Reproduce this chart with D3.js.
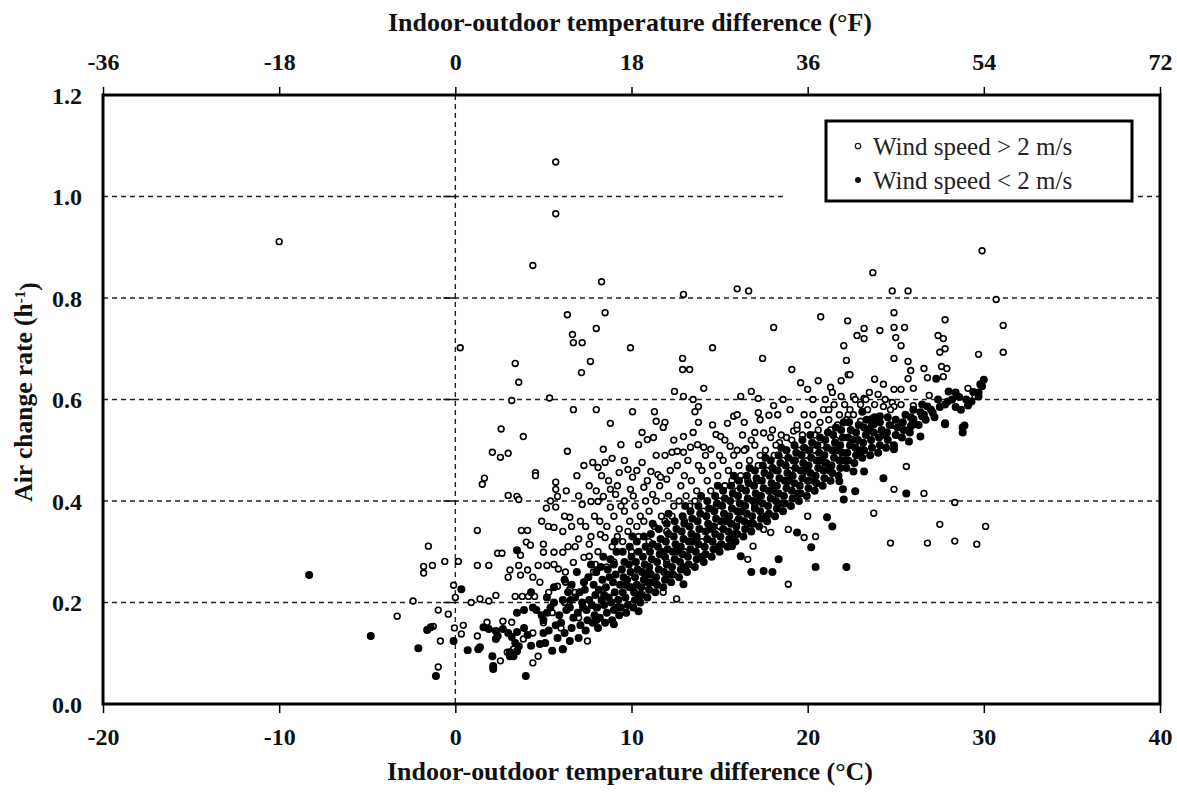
<!DOCTYPE html>
<html>
<head>
<meta charset="utf-8">
<script src="https://cdn.jsdelivr.net/npm/d3@7"></script>
<style>
  html, body { margin: 0; padding: 0; background: #fff; }
  svg { display: block; }
  text { font-family: "Liberation Serif", "Times New Roman", serif; fill: #111; }
</style>
</head>
<body>
<svg id="chart" width="1177" height="792"></svg>
<script>
// ---------------- data ----------------
const xTicksC = [-20, -10, 0, 10, 20, 30, 40];
const xTicksF = [-36, -18, 0, 18, 36, 54, 72];
const yTicks = [0.0, 0.2, 0.4, 0.6, 0.8, 1.0, 1.2];
const gridValues = [0.2, 0.4, 0.6, 0.8, 1.0];
const seriesNames = ["Wind speed > 2 m/s", "Wind speed < 2 m/s"];

// Wind speed > 2 m/s  [temperature difference (°C), air change rate (1/h)]
const windyPoints = [
  [-10.0,0.911],[5.7,1.068],[5.7,0.966],[4.4,0.864],[0.28,0.702],[3.4,0.671],[3.6,0.634],[3.2,0.598],
  [5.35,0.603],[2.6,0.542],[8.3,0.832],[12.95,0.807],[16.0,0.818],[16.65,0.814],[6.36,0.767],[8.5,0.771],
  [6.65,0.728],[6.7,0.712],[7.2,0.712],[8.0,0.74],[18.07,0.742],[20.74,0.763],[22.27,0.755],[9.94,0.702],
  [14.6,0.702],[7.67,0.675],[7.16,0.653],[12.9,0.681],[12.9,0.659],[13.3,0.659],[17.44,0.681],[19.1,0.659],
  [19.6,0.633],[20.6,0.637],[22.05,0.706],[22.2,0.677],[21.9,0.637],[22.3,0.649],[12.44,0.616],[12.95,0.606],
  [14.1,0.622],[13.5,0.600],[16.2,0.606],[16.8,0.616],[17.2,0.602],[21.3,0.624],[21.4,0.614],[21.9,0.606],
  [6.7,0.580],[8.0,0.580],[10.06,0.576],[11.3,0.576],[13.8,0.586],[13.6,0.576],[17.2,0.574],[17.8,0.569],
  [18.07,0.588],[8.8,0.553],[11.4,0.557],[11.9,0.555],[13.8,0.555],[15.45,0.553],[15.8,0.567],[16.4,0.555],
  [20.7,0.555],[21.7,0.549],[22.3,0.570],
  [29.9,0.893],[23.7,0.850],[24.8,0.814],[25.7,0.814],[30.7,0.797],[24.9,0.771],[27.8,0.757],[23.2,0.740],
  [22.8,0.726],[23.2,0.720],[24.1,0.736],[24.9,0.742],[25.5,0.742],[25.0,0.722],[25.3,0.706],[31.1,0.746],
  [27.4,0.726],[27.7,0.720],[27.8,0.700],[27.5,0.693],[24.9,0.681],[25.7,0.675],[29.7,0.689],[31.1,0.693],
  [25.85,0.657],[25.7,0.641],[26.6,0.661],[26.8,0.643],[27.6,0.665],[27.9,0.661],[27.7,0.645],[22.4,0.649],
  [29.1,0.622],[24.9,0.620],[25.3,0.620],[26.0,0.622],[26.9,0.608],[23.5,0.614],[24.0,0.610],[24.3,0.586],
  [24.8,0.594],[24.9,0.586],[26.0,0.588],[22.6,0.606],[23.2,0.602],[29.5,0.606],
  [25.6,0.468],[24.9,0.423],[26.6,0.415],[28.35,0.397],[23.75,0.376],[27.5,0.354],[30.1,0.350],[24.7,0.317],
  [26.8,0.317],[28.35,0.321],[29.6,0.315],[24.9,0.549],[23.0,0.557],
  [3.86,0.527],[2.1,0.496],[2.56,0.486],[3.0,0.494],[4.55,0.456],[4.55,0.450],[1.65,0.445],[1.53,0.433],
  [3.0,0.411],[3.5,0.409],[3.6,0.403],[5.17,0.386],[5.28,0.350],[1.25,0.342],[3.75,0.342],[4.1,0.342],
  [-1.53,0.311],[4.03,0.319],[4.26,0.313],[5.0,0.315],[5.0,0.299],[2.4,0.297],[2.65,0.297],[3.7,0.293],
  [-0.6,0.281],[0.17,0.281],[-1.3,0.273],[-1.8,0.271],[-1.8,0.258],[1.25,0.273],[1.9,0.273],[3.6,0.273],
  [4.1,0.264],[4.7,0.273],[5.2,0.273],[3.1,0.264],[3.0,0.250],[3.7,0.254],[4.4,0.250],[-0.1,0.234],
  [0.0,0.21],[-2.4,0.203],[0.9,0.200],[1.4,0.207],[1.9,0.203],[2.3,0.214],[3.4,0.212],[3.8,0.212],
  [4.15,0.212],[4.5,0.212],[-0.97,0.185],[-0.4,0.177],[-3.3,0.173],[-1.25,0.153],[-0.05,0.150],[0.45,0.155],
  [0.34,0.138],[-0.85,0.124],[1.25,0.134],[1.8,0.161],[2.7,0.163],[3.2,0.161],[2.56,0.085],[2.95,0.102],
  [3.3,0.108],[4.4,0.081],[4.7,0.094],[-0.97,0.073],[3.86,0.128],
  [6.36,0.498],[8.4,0.502],[7.3,0.470],[7.8,0.476],[8.1,0.466],[8.5,0.476],[8.9,0.484],[5.7,0.437],
  [5.7,0.423],[5.8,0.409],[9.4,0.511],[10.4,0.511],[10.9,0.521],[11.25,0.525],[10.6,0.535],[11.8,0.545],
  [12.95,0.527],[13.5,0.535],[10.6,0.476],[11.1,0.458],[11.5,0.452],[11.65,0.447],[12.0,0.443],[9.3,0.456],
  [9.8,0.462],[10.06,0.447],[12.3,0.496],[12.6,0.498],[12.95,0.496],[13.35,0.506],[13.75,0.511],[14.1,0.506],
  [14.5,0.502],[14.8,0.531],[15.06,0.527],[15.6,0.508],[16.0,0.500],[16.5,0.503],[17.0,0.535],[17.5,0.534],
  [17.9,0.525],[18.4,0.515],[18.8,0.525],[19.2,0.538],[19.4,0.542],[5.7,0.388],[5.6,0.348],[6.1,0.340],
  [6.6,0.350],[6.5,0.368],[5.6,0.299],[6.1,0.299],[5.6,0.275],[7.2,0.393],[7.7,0.399],[8.1,0.399],
  [8.4,0.409],[8.8,0.388],[9.1,0.413],[8.8,0.423],[9.94,0.423],[10.7,0.427],[11.2,0.413],[7.0,0.325],
  [7.6,0.315],[8.24,0.334],[8.5,0.328],[5.85,0.266],[6.25,0.260],[6.7,0.279],[7.3,0.289],[7.6,0.291],
  [7.95,0.275],[7.84,0.260],[5.8,0.232],[6.25,0.240],[6.5,0.226],[7.5,0.124],[10.06,0.197],[11.8,0.220],
  [12.56,0.207],[10.9,0.232],[11.25,0.240],[16.6,0.285],[16.9,0.311],[17.5,0.344],[17.9,0.338],[18.9,0.236],
  [18.9,0.344],[20.0,0.370],[19.8,0.328],[20.45,0.330],
  [8.2,0.36],[8.6,0.35],[9.0,0.37],[9.3,0.345],[9.6,0.38],[9.9,0.36],[8.7,0.44],[9.2,0.43],
  [9.6,0.40],[10.2,0.39],[10.5,0.37],[10.8,0.40],[9.5,0.32],[8.9,0.31],[10.3,0.35],[11.0,0.38],
  [11.4,0.40],[11.7,0.37],[12.1,0.41],[12.4,0.39],[12.8,0.43],[13.1,0.41],[13.4,0.44],[13.7,0.42],
  [14.0,0.46],[14.3,0.44],[14.6,0.47],[14.9,0.45],[15.2,0.48],[15.5,0.46],[15.8,0.49],[16.1,0.47],
  [16.4,0.50],[16.7,0.48],[17.0,0.51],[17.3,0.49],[17.6,0.50],[17.9,0.48],[18.2,0.51],[18.5,0.53],
  [18.8,0.50],[19.1,0.52],[19.4,0.55],[19.7,0.53],[20.0,0.55],[20.3,0.57],[20.6,0.54],[20.9,0.58],
  [21.2,0.56],[21.5,0.59],[21.8,0.57],[22.1,0.59],[22.4,0.58],[22.7,0.60],[23.0,0.59],[23.4,0.58],
  [12.2,0.46],[12.6,0.47],[13.0,0.45],[11.6,0.43],[10.9,0.44],[11.9,0.49],[13.2,0.48],[14.2,0.49],
  [15.3,0.52],[16.3,0.53],[17.3,0.56],[18.3,0.57],[19.0,0.58],[20.3,0.60],[21.0,0.60],[14.1,0.38],
  [15.0,0.40],[16.0,0.42],[17.1,0.44],[18.2,0.46],[19.3,0.48],[20.4,0.50],[21.6,0.52],[13.0,0.36],
  [12.0,0.34],[11.0,0.32],[10.0,0.30],[9.0,0.28],[8.0,0.26],[7.3,0.24],[6.8,0.22],[6.2,0.20],
  [5.5,0.18],[5.0,0.16],[4.4,0.14],[6.0,0.15],[7.0,0.17],[8.0,0.19],[9.0,0.21],[10.0,0.23],
  [11.0,0.26],[12.0,0.28],[13.0,0.30],[14.0,0.32],[15.0,0.35],[16.0,0.36],[17.0,0.39],[18.0,0.41],
  [19.0,0.43],[20.0,0.45],[21.0,0.47],[22.0,0.49],[23.0,0.51],[24.0,0.53],[25.0,0.55],[6.8,0.31],
  [7.4,0.35],[6.3,0.42],[6.9,0.45],[7.6,0.43],[8.3,0.45],[5.4,0.40],[4.9,0.36],[4.8,0.24],[5.3,0.22],
  [6.4,0.31],[7.1,0.36],[7.7,0.33],[8.1,0.30],[8.6,0.27],[9.2,0.33],[9.8,0.34],[10.4,0.33],
  [10.1,0.41],[10.7,0.36],[11.3,0.35],[11.9,0.36],[12.3,0.37],[12.7,0.40],[13.3,0.39],[13.6,0.40],
  [14.5,0.42],[14.8,0.39],[15.3,0.43],[15.7,0.44],[16.2,0.45],[16.6,0.44],[17.2,0.47],[17.7,0.46],
  [18.1,0.49],[18.6,0.48],[19.0,0.46],[19.5,0.50],[19.9,0.49],[20.4,0.53],[20.8,0.51],[21.3,0.54],
  [21.7,0.55],[22.2,0.56],[22.6,0.57],[23.3,0.60],[23.8,0.59],[24.4,0.60],[24.7,0.58],[25.3,0.59],
  [11.4,0.49],[12.4,0.52],[13.8,0.47],[15.0,0.49],[16.8,0.52],[18.0,0.54],[19.8,0.57],[21.2,0.58],
  [9.6,0.48],[10.3,0.46],[7.0,0.41],[8.0,0.42],[6.2,0.37],[7.9,0.37],[9.4,0.39],[14.6,0.55],
  [16.0,0.57],[18.6,0.60],[20.0,0.62],[23.8,0.64],[24.3,0.63]
];

// Wind speed < 2 m/s  [temperature difference (°C), air change rate (1/h)]
const calmPoints = [
  [-8.3,0.254],[-4.8,0.134],[-2.1,0.110],[-1.6,0.146],[-1.4,0.151],[-1.1,0.055],[-0.1,0.124],[0.34,0.226],
  [0.7,0.106],[1.3,0.108],[1.4,0.112],[2.1,0.094],[2.15,0.069],[2.15,0.075],[4.0,0.055],[1.6,0.151],
  [1.9,0.148],[2.3,0.144],[2.3,0.128],[2.4,0.134],[2.7,0.148],[3.0,0.140],[3.2,0.132],[3.4,0.120],
  [3.5,0.142],[3.9,0.150],[4.1,0.136],[3.6,0.114],[4.3,0.115],[3.1,0.102],[3.3,0.094],[3.5,0.104],
  [3.1,0.094],[3.5,0.180],[3.9,0.185],[4.4,0.190],[4.6,0.185],[4.9,0.175],[5.2,0.180],[5.0,0.140],
  [4.8,0.118],[3.5,0.303],[4.3,0.22],
  [5.1,0.12],[5.3,0.145],[5.0,0.165],[5.4,0.19],[5.2,0.21],[5.6,0.23],[5.5,0.105],[5.8,0.13],
  [5.7,0.155],[5.9,0.175],[5.6,0.20],[6.1,0.108],[6.5,0.124],
  [6.2,0.14],[6.0,0.16],[6.3,0.185],[6.1,0.205],[6.4,0.22],[6.2,0.245],[6.6,0.15],[6.7,0.17],
  [6.5,0.19],[6.8,0.21],[6.6,0.235],[6.9,0.26],
  [7.0,0.13],[7.1,0.155],[6.95,0.18],[7.2,0.20],[7.05,0.22],[7.3,0.24],[7.4,0.145],[7.5,0.165],
  [7.45,0.185],[7.6,0.205],[7.35,0.225],[7.55,0.25],[7.7,0.275],[7.8,0.16],[7.9,0.175],[7.75,0.195],
  [7.95,0.215],[7.85,0.235],[8.0,0.26],
  [8.1,0.15],[8.2,0.17],[8.05,0.19],[8.3,0.205],[8.15,0.225],[8.35,0.245],[8.25,0.27],[8.4,0.29],
  [8.5,0.16],[8.6,0.18],[8.45,0.195],[8.7,0.21],[8.55,0.23],[8.75,0.25],[8.65,0.265],[8.8,0.285],
  [8.9,0.165],[9.0,0.185],[8.85,0.20],[9.05,0.22],[8.95,0.24],[9.1,0.255],[9.0,0.275],[9.15,0.30],[9.05,0.32],
  [9.3,0.175],[9.4,0.19],[9.25,0.205],[9.5,0.22],[9.35,0.235],[9.55,0.25],[9.45,0.265],[9.6,0.28],
  [9.5,0.30],[9.7,0.18],[9.8,0.195],[9.65,0.21],[9.9,0.23],[9.75,0.245],[9.95,0.26],[9.85,0.275],
  [10.0,0.29],[9.9,0.31],[10.05,0.33],
  [10.1,0.19],[10.2,0.205],[10.15,0.22],[10.3,0.235],[10.2,0.25],[10.35,0.265],[10.25,0.28],[10.4,0.30],
  [10.3,0.32],[10.5,0.20],[10.6,0.215],[10.55,0.23],[10.7,0.245],[10.6,0.26],[10.75,0.275],[10.65,0.29],
  [10.8,0.31],[10.7,0.33],[10.9,0.21],[11.0,0.225],[10.95,0.24],[11.1,0.255],[11.0,0.27],[11.15,0.285],
  [11.05,0.30],[11.2,0.315],[11.1,0.335],[11.2,0.355],
  [11.35,0.22],[11.45,0.235],[11.4,0.25],[11.55,0.265],[11.45,0.28],[11.6,0.295],[11.5,0.31],[11.65,0.325],
  [11.55,0.345],[11.8,0.23],[11.9,0.245],[11.85,0.26],[12.0,0.275],[11.9,0.29],[12.05,0.305],[11.95,0.32],
  [12.1,0.335],[12.0,0.355],[12.1,0.375],
  [12.25,0.24],[12.35,0.255],[12.3,0.27],[12.45,0.285],[12.35,0.30],[12.5,0.315],[12.4,0.33],[12.55,0.345],
  [12.45,0.36],[12.7,0.25],[12.8,0.265],[12.75,0.28],[12.9,0.295],[12.8,0.31],[12.95,0.325],[12.85,0.34],
  [13.0,0.355],[12.9,0.37],[13.05,0.39],
  [13.15,0.26],[13.25,0.275],[13.2,0.29],[13.35,0.305],[13.25,0.32],[13.4,0.335],[13.3,0.35],[13.45,0.365],
  [13.35,0.38],[13.6,0.27],[13.7,0.285],[13.65,0.30],[13.8,0.315],[13.7,0.33],[13.85,0.345],[13.75,0.36],
  [13.9,0.375],[13.8,0.39],[13.95,0.41],
  [14.1,0.28],[14.2,0.295],[14.15,0.31],[14.3,0.325],[14.2,0.34],[14.35,0.355],[14.25,0.37],[14.4,0.385],
  [14.3,0.40],[14.55,0.29],[14.65,0.305],[14.6,0.32],[14.75,0.335],[14.65,0.35],[14.8,0.365],[14.7,0.38],
  [14.85,0.395],[14.75,0.41],[14.9,0.43],
  [15.0,0.30],[15.1,0.315],[15.05,0.33],[15.2,0.345],[15.1,0.36],[15.25,0.375],[15.15,0.39],[15.3,0.405],
  [15.2,0.42],[15.45,0.31],[15.55,0.325],[15.5,0.34],[15.65,0.355],[15.55,0.37],[15.7,0.385],[15.6,0.40],
  [15.75,0.415],[15.65,0.43],[15.8,0.45],
  [15.9,0.32],[16.0,0.335],[15.95,0.35],[16.1,0.365],[16.0,0.38],[16.15,0.395],[16.05,0.41],[16.2,0.425],
  [16.1,0.44],[16.35,0.33],[16.45,0.345],[16.4,0.36],[16.55,0.375],[16.45,0.39],[16.6,0.405],[16.5,0.42],
  [16.65,0.435],[16.55,0.45],[16.7,0.465],
  [16.8,0.34],[16.9,0.355],[16.85,0.37],[17.0,0.385],[16.9,0.40],[17.05,0.415],[16.95,0.43],[17.1,0.445],
  [17.0,0.46],[17.25,0.35],[17.35,0.365],[17.3,0.38],[17.45,0.395],[17.35,0.41],[17.5,0.425],[17.4,0.44],
  [17.55,0.455],[17.45,0.47],[17.6,0.485],
  [17.7,0.36],[17.8,0.375],[17.75,0.39],[17.9,0.405],[17.8,0.42],[17.95,0.435],[17.85,0.45],[18.0,0.465],
  [17.9,0.48],[18.15,0.37],[18.25,0.385],[18.2,0.40],[18.35,0.415],[18.25,0.43],[18.4,0.445],[18.3,0.46],
  [18.45,0.475],[18.35,0.49],[18.5,0.505],
  [18.6,0.38],[18.7,0.395],[18.65,0.41],[18.8,0.425],[18.7,0.44],[18.85,0.455],[18.75,0.47],[18.9,0.485],
  [18.8,0.50],[19.05,0.39],[19.15,0.405],[19.1,0.42],[19.25,0.435],[19.15,0.45],[19.3,0.465],[19.2,0.48],
  [19.35,0.495],[19.25,0.51],
  [19.5,0.40],[19.6,0.415],[19.55,0.43],[19.7,0.445],[19.6,0.46],[19.75,0.475],[19.65,0.49],[19.8,0.505],
  [19.7,0.52],[19.95,0.41],[20.05,0.425],[20.0,0.44],[20.15,0.455],[20.05,0.47],[20.2,0.485],[20.1,0.50],
  [20.25,0.515],[20.15,0.53],
  [20.4,0.42],[20.5,0.435],[20.45,0.45],[20.6,0.465],[20.5,0.48],[20.65,0.495],[20.55,0.51],[20.7,0.525],
  [20.85,0.43],[20.95,0.445],[20.9,0.46],[21.05,0.475],[20.95,0.49],[21.1,0.505],[21.0,0.52],[21.15,0.535],
  [21.3,0.44],[21.4,0.455],[21.35,0.47],[21.5,0.485],[21.4,0.50],[21.55,0.515],[21.45,0.53],[21.6,0.545],
  [21.75,0.45],[21.85,0.465],[21.8,0.48],[21.95,0.495],[21.85,0.51],[22.0,0.525],[21.9,0.54],[22.05,0.555],
  [22.2,0.465],[22.3,0.48],[22.25,0.495],[22.4,0.51],[22.3,0.525],[22.45,0.54],[22.35,0.555],[22.65,0.475],
  [22.75,0.49],[22.7,0.505],[22.85,0.52],[22.75,0.535],[22.9,0.55],
  [23.1,0.485],[23.2,0.50],[23.15,0.515],[23.3,0.53],[23.2,0.545],[23.35,0.56],[23.55,0.49],[23.65,0.505],
  [23.6,0.52],[23.75,0.535],[23.65,0.55],[23.8,0.565],
  [24.0,0.495],[24.1,0.51],[24.05,0.525],[24.2,0.54],[24.1,0.555],[24.45,0.505],[24.55,0.52],[24.5,0.535],
  [24.65,0.55],[24.55,0.565],
  [24.9,0.51],[25.0,0.53],[25.1,0.545],[25.0,0.56],[25.35,0.525],[25.45,0.54],[25.4,0.555],[25.55,0.57],
  [25.8,0.535],[25.9,0.55],[25.85,0.565],[26.0,0.58],
  [26.3,0.55],[26.4,0.575],[26.7,0.56],[27.2,0.565],[27.5,0.585],[27.4,0.60],[27.8,0.59],[28.2,0.60],
  [28.6,0.605],[29.0,0.60],[29.4,0.615],[29.8,0.63],[28.4,0.585],[28.7,0.58],
  [12.95,0.236],[15.7,0.311],[16.2,0.291],[16.8,0.260],[17.5,0.262],[18.35,0.285],[19.4,0.338],[20.2,0.309],
  [20.45,0.270],[21.1,0.368],[21.4,0.350],[21.8,0.439],[22.0,0.423],[22.05,0.403],[10.4,0.183],[9.0,0.157],
  [6.1,0.108],[18.0,0.26],[22.2,0.27],
  [23.2,0.458],[22.6,0.458],[24.3,0.445],[22.7,0.419],[25.6,0.415],[25.75,0.517],[24.9,0.502],[26.0,0.551],
  [26.4,0.527],[25.85,0.547],[27.8,0.551],[28.8,0.545],[28.8,0.535],
  [30.0,0.639],[29.9,0.626],[29.7,0.614],[29.7,0.606],[29.1,0.588],[29.3,0.596],[28.0,0.616],[28.4,0.614],
  [27.95,0.596],[27.3,0.641],[26.5,0.590],[27.0,0.580],[26.8,0.586],[27.1,0.574],[26.5,0.567],[26.6,0.570],
  [26.0,0.555],[26.0,0.561],[27.8,0.553],[28.9,0.549],[23.1,0.576],[23.6,0.561],[24.1,0.567],[23.75,0.551],
  [7.25,0.19],[8.45,0.215],[9.7,0.235],[10.85,0.255],[11.7,0.30],[12.6,0.30],[13.5,0.32],[14.45,0.345],
  [15.35,0.36],[16.25,0.38],[17.15,0.40],[18.05,0.42],[18.95,0.44],[19.85,0.46],[20.75,0.48],[21.65,0.50],
  [22.55,0.52],[23.45,0.54],[24.35,0.53],[6.55,0.205],[8.0,0.165],[9.2,0.19],[10.45,0.215],[11.25,0.24],
  [12.15,0.255],[13.05,0.27],[14.0,0.29],[14.95,0.31],[15.85,0.335],[16.75,0.355],[17.65,0.37],[18.55,0.395],
  [19.45,0.415],[20.35,0.44],[21.25,0.46],[22.1,0.48],[23.0,0.50]
];

// ---------------- chart ----------------
const svg = d3.select("#chart");
const L = 103, R = 1160, T = 95, B = 704;
const FONT = '"Liberation Serif", "Times New Roman", serif';

const x = d3.scaleLinear().domain([-20, 40]).range([L, R]);
const xF = d3.scaleLinear().domain([-36, 72]).range([L, R]);
const y = d3.scaleLinear().domain([0, 1.2]).range([B, T]);

svg.append("rect").attr("width", 1177).attr("height", 792).attr("fill", "#fff");

// gridlines
const grid = svg.append("g").attr("stroke", "#222").attr("stroke-width", 1.4)
  .attr("stroke-dasharray", "5,4").attr("fill", "none");
grid.selectAll("line.h").data(gridValues).join("line").attr("class", "h")
  .attr("x1", L).attr("x2", R).attr("y1", d => y(d)).attr("y2", d => y(d));
grid.append("line").attr("x1", x(0)).attr("x2", x(0)).attr("y1", T).attr("y2", B);

// small ticks on the y axis at x = 0
svg.append("g").attr("stroke", "#111").attr("stroke-width", 1.5)
  .selectAll("line").data(gridValues).join("line")
  .attr("x1", x(0) - 12).attr("x2", x(0) + 1).attr("y1", d => y(d)).attr("y2", d => y(d));

// points
svg.append("g").selectAll("circle").data(windyPoints).join("circle")
  .attr("cx", d => x(d[0])).attr("cy", d => y(d[1])).attr("r", 2.9)
  .attr("fill", "#fff").attr("stroke", "#000").attr("stroke-width", 1.6);
svg.append("g").selectAll("circle").data(calmPoints).join("circle")
  .attr("cx", d => x(d[0])).attr("cy", d => y(d[1])).attr("r", 4.0)
  .attr("fill", "#000");

// legend
const lg = svg.append("g");
lg.append("rect").attr("x", 786).attr("y", 116).attr("width", 350).attr("height", 90).attr("fill", "#fff");
lg.append("rect").attr("x", 826).attr("y", 121).attr("width", 306).attr("height", 80)
  .attr("fill", "#fff").attr("stroke", "#000").attr("stroke-width", 3);
lg.append("circle").attr("cx", 858).attr("cy", 146).attr("r", 2.7)
  .attr("fill", "#fff").attr("stroke", "#222").attr("stroke-width", 1.3);
lg.append("circle").attr("cx", 858).attr("cy", 180).attr("r", 3).attr("fill", "#111");
lg.selectAll("text").data(seriesNames).join("text")
  .attr("x", 873).attr("y", (d, i) => 155 + i * 34)
  .style("font-family", FONT).style("font-size", "25px").style("fill", "#222")
  .text(d => d);

// plot border
svg.append("rect").attr("x", L).attr("y", T).attr("width", R - L).attr("height", B - T)
  .attr("fill", "none").attr("stroke", "#000").attr("stroke-width", 3);

// bottom axis (°C)
const gx = svg.append("g").attr("transform", `translate(0,${B})`)
  .call(d3.axisBottom(x).tickValues(xTicksC).tickSize(9).tickFormat(d => String(d)));
gx.select(".domain").remove();
gx.selectAll(".tick line").attr("stroke", "#000").attr("stroke-width", 1.5);
gx.selectAll(".tick text").attr("y", 41).attr("dy", null)
  .style("font-family", FONT).style("font-size", "24px").style("font-weight", "bold").style("fill", "#111");

// top axis (°F)
const gxt = svg.append("g").attr("transform", `translate(0,${T})`)
  .call(d3.axisTop(xF).tickValues(xTicksF).tickSize(8).tickFormat(d => String(d)));
gxt.select(".domain").remove();
gxt.selectAll(".tick line").attr("stroke", "#000").attr("stroke-width", 1.5);
gxt.selectAll(".tick text").attr("y", -25).attr("dy", null)
  .style("font-family", FONT).style("font-size", "24px").style("font-weight", "bold").style("fill", "#111");

// left axis
const gy = svg.append("g").attr("transform", `translate(${L},0)`)
  .call(d3.axisLeft(y).tickValues(yTicks).tickSize(0).tickPadding(21).tickFormat(d3.format(".1f")));
gy.select(".domain").remove();
gy.selectAll(".tick text").attr("dy", "0.34em")
  .style("font-family", FONT).style("font-size", "24px").style("font-weight", "bold").style("fill", "#111");

// axis titles
svg.append("text").attr("x", 630).attr("y", 31).attr("text-anchor", "middle")
  .attr("textLength", 484).attr("lengthAdjust", "spacingAndGlyphs")
  .style("font-family", FONT).style("font-size", "25.5px").style("font-weight", "bold")
  .text("Indoor-outdoor temperature difference (°F)");
svg.append("text").attr("x", 630).attr("y", 780).attr("text-anchor", "middle")
  .attr("textLength", 486).attr("lengthAdjust", "spacingAndGlyphs")
  .style("font-family", FONT).style("font-size", "25.5px").style("font-weight", "bold")
  .text("Indoor-outdoor temperature difference (°C)");

const yt = svg.append("text").attr("transform", "translate(32,392) rotate(-90)")
  .attr("text-anchor", "middle")
  .style("font-family", FONT).style("font-size", "25.5px").style("font-weight", "bold");
yt.append("tspan").text("Air change rate (h");
yt.append("tspan").attr("dy", "-0.45em").style("font-size", "15px").text("-1");
yt.append("tspan").attr("dy", "0.45em").text(")");
</script>
</body>
</html>
